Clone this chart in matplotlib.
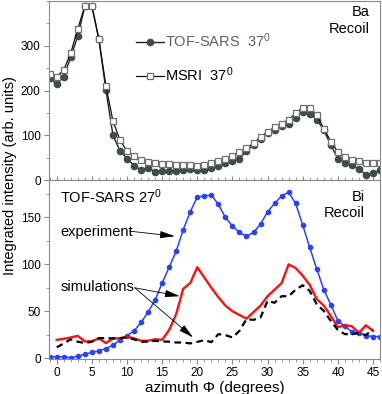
import matplotlib
matplotlib.use("Agg")
import matplotlib.pyplot as plt
import numpy as np
from matplotlib.ticker import MultipleLocator

plt.rcParams['font.family'] = ['Liberation Sans', 'DejaVu Sans']
plt.rcParams['mathtext.fontset'] = 'custom'
plt.rcParams['mathtext.rm'] = 'Liberation Sans'
plt.rcParams['mathtext.it'] = 'Liberation Sans'
plt.rcParams['font.size'] = 10

# ---------------- data ----------------
ba_azimuth = list(range(-1, 47))
ba_tof = [228, 214, 231, 275, 322, 388, 389, 314, 201, 100, 65, 48, 32, 22, 27, 18,
          19, 19, 21, 22, 24, 22, 22, 26, 31, 37, 42, 47, 65, 78, 91, 104,
          112, 120, 126, 138, 152, 147, 135, 112, 78, 48, 39, 33, 24, 12, 15, 22]
ba_msri = [237, 231, 246, 284, 338, 389, 389, 315, 210, 132, 89, 65, 54, 45, 40, 37,
           36, 35, 33, 33, 33, 32, 33, 37, 43, 48, 54, 63, 71, 82, 96, 108,
           118, 126, 135, 149, 162, 162, 145, 115, 86, 63, 51, 45, 42, 39, 38, 37]

bi_exp_azimuth = list(range(-1, 47))
bi_exp = [1, 1.5, 1.5, 0.5, 2, 4, 6, 8, 10, 14, 19, 24, 29, 38, 49, 62,
          80, 97, 114, 137, 156, 172, 173, 174, 164, 150, 141, 134, 130, 134, 143, 156,
          165, 173, 177, 165, 142, 118, 95, 73, 57, 40, 34, 28, 27, 24, 23, 23]

bi_sim_azimuth = list(range(0, 46))
bi_sim_red = [19.5, 20.5, 22, 23.7, 17.7, 18, 21, 16, 21, 21, 23, 21, 18.5, 18.5, 20, 19.5,
              30, 47, 74, 80, 97, 86, 75, 65, 56, 50, 46, 42, 49, 56, 66, 73,
              80, 100, 96, 88, 78, 63, 56, 45, 33, 35, 34, 27, 35, 29]
bi_sim_black = [11.4, 15.6, 20, 17.4, 16, 17.4, 21.3, 21.3, 21, 21.3, 22, 20, 17.4, 17.5, 18.4, 17.7,
                17.5, 16.6, 16.6, 15.6, 17.3, 19, 17, 25.5, 24.5, 22, 29, 41.5, 40.8, 43.3, 61, 59,
                66, 66, 73, 77.7, 71.6, 57.4, 50.3, 39.7, 30, 25.5, 25.5, 26.6, 24.5, 30.8]

# ---------------- figure ----------------
fig = plt.figure(figsize=(3.82, 3.94), dpi=100)
L, R = 49/382, 380/382
y_top = 1 - 1/394
y_mid = 1 - 180/394
y_bot = 1 - 359/394
ax1 = fig.add_axes([L, y_mid, R - L, y_top - y_mid])
ax2 = fig.add_axes([L, y_bot, R - L, y_mid - y_bot], sharex=ax1)

spine_col = '#8a8a8a'
for ax in (ax1, ax2):
    for s in ax.spines.values():
        s.set_color(spine_col)
        s.set_linewidth(0.8)
    ax.xaxis.set_major_locator(MultipleLocator(5))
    ax.xaxis.set_minor_locator(MultipleLocator(1))
    ax.tick_params(which='both', color=spine_col, labelsize=8.5, pad=2.5)
    ax.tick_params(which='major', length=3.5)
    ax.tick_params(which='minor', length=2)

# top panel
ax1.plot(ba_azimuth, ba_tof, '-o', color='#222222', lw=1.0, ms=4.5,
         mfc='#3e4c4c', mec='#3e4c4c', label=r'TOF-SARS  37$^0$')
ax1.plot(ba_azimuth, ba_msri, '-s', color='#111111', lw=0.9, ms=5,
         mfc='white', mec='#707070', mew=0.9, label=r'MSRI  37$^0$')
ax1.set_ylim(0, 400)
ax1.set_yticks([0, 100, 200, 300])
ax1.yaxis.set_minor_locator(MultipleLocator(50))
ax1.tick_params(axis='x', which='both', direction='inout', labelbottom=False)
ax1.tick_params(axis='x', which='major', length=6)
ax1.tick_params(axis='x', which='minor', length=4)
leg = ax1.legend(loc='upper left', bbox_to_anchor=(0.222, 0.905), frameon=False,
                 handlelength=1.95, handletextpad=0.05, labelspacing=1.1,
                 numpoints=1, fontsize=10.5)
leg.get_texts()[0].set_color('#5a6262')
ax1.text(0.968, 0.975, 'Ba\nRecoil', transform=ax1.transAxes, ha='right', va='top',
         multialignment='right', fontsize=10.5, linespacing=1.2)

# bottom panel
ax2.plot(bi_exp_azimuth, bi_exp, '-o', color='#2a40ff', lw=1.1, ms=3, mec='#2a40ff')
ax2.plot(bi_sim_azimuth, bi_sim_red, '-', color='#ff1010', lw=1.7)
ax2.plot(bi_sim_azimuth, bi_sim_black, '--', color='black', lw=1.6, dashes=(3, 2))
ax2.set_ylim(-1, 190)
ax2.set_yticks([0, 50, 100, 150])
ax2.yaxis.set_minor_locator(MultipleLocator(25))
ax2.set_xlim(-1.1, 46)
ax2.set_xticks([0, 5, 10, 15, 20, 25, 30, 35, 40, 45])
ax2.set_xlabel('azimuth \u03a6 (degrees)', fontsize=11, labelpad=1)

ax2.text(0.5, 172, r'TOF-SARS 27$^0$', fontsize=10.5, va='center', ha='left')
ax2.text(0.5, 135, 'experiment', fontsize=10.5, va='center', ha='left')
ax2.text(0.5, 75.5, 'simulations', fontsize=10.5, va='center', ha='left')
ax2.text(0.955, 0.945, 'Bi\nRecoil', transform=ax2.transAxes, ha='right', va='top',
         multialignment='right', fontsize=10.5, linespacing=1.2)

arrow_kw = dict(arrowstyle='-|>,head_length=0.9,head_width=0.22', color='black', lw=0.6,
                shrinkA=0, shrinkB=0)
ax2.annotate('', xy=(16.8, 130), xytext=(10.4, 135.4), arrowprops=arrow_kw)
ax2.annotate('', xy=(17.5, 66), xytext=(11.1, 75), arrowprops=arrow_kw)
ax2.annotate('', xy=(19.4, 22), xytext=(11.1, 75), arrowprops=arrow_kw)

fig.text(10/382, 1 - 176/394, 'Integrated intensity (arb. units)', rotation=90,
         ha='center', va='center', fontsize=10.5)

fig.savefig('out.png', dpi=100)
